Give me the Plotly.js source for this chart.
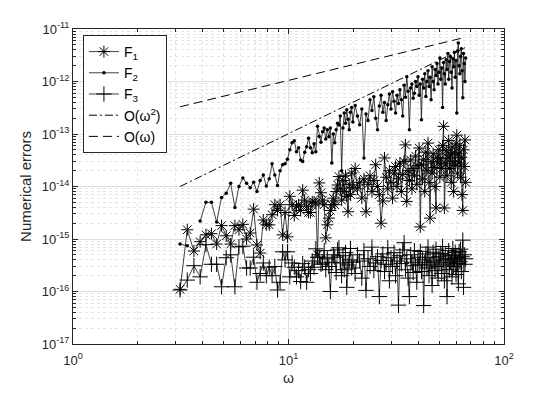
<!DOCTYPE html>
<html>
<head>
<meta charset="utf-8">
<script src="https://cdn.plot.ly/plotly-3.0.1.min.js"></script>
<style>
  html, body { margin: 0; padding: 0; background: #fff; }
  #myPlot { width: 558px; height: 393px; }
</style>
</head>
<body>
<div id="myPlot"></div>
<script>
// frequencies (omega)
const omega = [
  3.14, 3.39, 3.64, 3.89, 4.14, 4.39, 4.64, 4.89, 5.14, 5.39, 5.64, 5.89,
  6.14, 6.39, 6.64, 6.89, 7.14, 7.39, 7.64, 7.89, 8.14, 8.39, 8.64, 8.89,
  9.14, 9.39, 9.64, 9.89, 10.14, 10.39, 10.64, 10.89, 11.14, 11.39, 11.64, 11.89,
  12.14, 12.39, 12.64, 12.89, 13.14, 13.39, 13.64, 13.89, 14.14, 14.39, 14.64, 14.89,
  15.14, 15.39, 15.64, 15.89, 16.14, 16.39, 16.64, 16.89, 17.14, 17.39, 17.64, 17.89,
  18.14, 18.39, 18.64, 18.89, 19.14, 19.39, 19.64, 19.89,
  20.39, 20.89, 21.39, 21.89, 22.39, 22.89, 23.39, 23.89, 24.39, 24.89,
  25.39, 25.89, 26.39, 26.89, 27.39, 27.89, 28.39, 28.89, 29.39, 29.89,
  30.39, 30.89, 31.39, 31.89, 32.39, 32.89, 33.39, 33.89, 34.39, 34.89,
  35.39, 35.89, 36.39, 36.89, 37.39, 37.89, 38.39, 38.89, 39.39, 39.89,
  40.39, 40.89, 41.39, 41.89, 42.39, 42.89, 43.39, 43.89, 44.39, 44.89,
  45.39, 45.89, 46.39, 46.89, 47.39, 47.89, 48.39, 48.89, 49.39, 49.89,
  50.39, 50.89, 51.39, 51.89, 52.39, 52.89, 53.39, 53.89, 54.39, 54.89,
  55.39, 55.89, 56.39, 56.89, 57.39, 57.89, 58.39, 58.89, 59.39, 59.89,
  60.39, 60.89, 61.39, 61.89, 62.39, 62.89, 63.39, 63.89, 64.39, 64.89,
  65.39, 65.89, 66.39
];

// errors of F1 (asterisks)
const errF1 = [
  1.1e-16, 1.5e-15, 5.9e-16, 8.9e-16, 1.2e-15, 1.26e-15, 8e-16, 1.8e-15, 1.15e-15, 8e-16, 1.8e-15, 1.5e-15,
  1.9e-15, 1e-15, 1.3e-15, 3.7e-15, 7.7e-16, 5.4e-16, 2.3e-15, 1.86e-15, 1.86e-15, 2.9e-15, 4.5e-15, 3.5e-15,
  4.5e-15, 1.2e-15, 3.2e-15, 1.1e-15, 6.5e-15, 4.5e-15, 2.8e-15, 4.2e-15, 4.5e-15, 3.5e-15, 8.5e-15, 5.5e-15,
  4.2e-15, 3.2e-15, 3.2e-15, 5.1e-15, 5.1e-15, 4.8e-15, 5e-16, 1.17e-14, 7.6e-15, 5.5e-15, 4.5e-15, 1.05e-15,
  1.86e-15, 2.5e-15, 3.5e-15, 4.5e-15, 6e-15, 4.5e-15, 8e-15, 1.07e-14, 1.55e-14, 9e-15, 5.5e-15, 1.3e-14,
  8e-15, 1.6e-14, 6.5e-15, 3.3e-15, 1.1e-14, 7e-15, 1.8e-14, 9.5e-15,
  2.2e-14, 9e-15, 1.2e-14, 6e-15, 1.4e-14, 3.3e-15, 1.1e-14, 1.6e-14, 8e-15, 1.3e-14,
  2.6e-14, 1e-14, 7e-15, 2e-15, 5.3e-15, 3.5e-14, 1.5e-14, 9e-15, 2e-14, 1.2e-14,
  6e-15, 1.8e-14, 2.4e-14, 1e-14, 1.4e-14, 2.8e-14, 8e-15, 1.7e-14, 3e-14, 6.2e-14,
  5.2e-15, 2e-14, 1.3e-14, 3.2e-14, 9e-15, 2.2e-14, 1.6e-14, 3.8e-14, 1.1e-14, 2.5e-14,
  5.4e-14, 1.7e-15, 2.6e-14, 1.4e-14, 3.3e-14, 8e-15, 4.5e-14, 2e-14, 6.7e-14, 1.2e-14,
  2.5e-15, 3e-14, 1.8e-14, 4.2e-14, 2.3e-14, 1e-14, 3.9e-15, 3.6e-14, 2.8e-14, 5e-14,
  1.5e-14, 3.4e-14, 2.2e-14, 6e-14, 1.4e-13, 3.9e-15, 2.7e-14, 4.8e-14, 1.6e-14, 3.5e-14,
  7.5e-14, 2.2e-14, 4e-14, 1.2e-14, 5.6e-14, 3e-14, 8e-15, 4.4e-14, 2.5e-14, 6.5e-14,
  9.5e-14, 1.8e-14, 4.2e-14, 2.8e-14, 6e-14, 1.5e-14, 3.6e-14, 7e-15, 3.5e-15, 5e-14,
  2.4e-14, 7.7e-14, 1.2e-14
];

// errors of F2 (dots); null = zero error, not drawn on log axes
const errF2 = [
  8e-16, 7.4e-16, null, 2.2e-15, 5e-15, 5e-15, 2.1e-15, 6.2e-15, 7.4e-15, 1.15e-14, 4e-15, 1e-14,
  1.45e-14, 1.15e-14, 9.5e-15, 1.2e-14, 8e-15, 1.3e-14, 1.66e-14, 1.02e-14, 1.4e-14, 2.7e-14, 1.66e-14, 1.05e-14,
  2e-14, 2.6e-14, 2.7e-14, 3.3e-14, 5e-14, 6.8e-14, 7.4e-14, 4.6e-14, 5.5e-14, 3.2e-14, 3e-14, 4.5e-14,
  5.7e-14, 8.3e-14, 5.5e-14, 4.4e-14, 6.5e-14, 4.6e-14, 1.4e-13, 9e-14, 7e-14, 1.1e-13, 1.3e-13, 8e-14,
  1.2e-13, 8.9e-14, 1.3e-13, 2.8e-14, 1e-13, 6.8e-14, 1.2e-13, 1.6e-13, 1.48e-13, 2.2e-13, 2e-14, 1.3e-13,
  2.5e-13, 1.6e-13, 2.9e-13, 1.9e-13, 1.2e-13, 2.6e-13, 3.2e-13, 1.7e-13,
  3.5e-13, 2.2e-13, 1.5e-13, 3e-13, 3.5e-14, 2.4e-13, 1.8e-13, 4.5e-13, 2.8e-13, 5.1e-13,
  2e-13, 1.2e-13, 3.4e-13, 5.5e-13, 2.6e-13, 4e-13, 1.8e-13, 3.6e-13, 5.8e-13, 3e-13,
  6.4e-13, 4.2e-13, 2.5e-13, 5.5e-13, 3.8e-13, 7e-13, 4.5e-13, 2.2e-13, 8.5e-13, 5e-13,
  1.23e-12, 6.5e-13, 1.2e-13, 7.5e-13, 9e-13, 4.8e-13, 6e-13, 1e-12, 8e-13, 1.23e-12,
  5.5e-13, 9e-13, 1.86e-13, 1.1e-12, 7.5e-13, 1.4e-12, 5.2e-13, 1e-12, 1.6e-12, 8e-13,
  1.2e-12, 4.5e-13, 1.9e-12, 1e-12, 7e-13, 1.7e-12, 1.3e-12, 2.2e-12, 9e-13, 1.5e-12,
  2.8e-12, 1.1e-12, 1.8e-12, 3.2e-13, 2.3e-12, 1.4e-12, 9e-13, 2.6e-12, 1.7e-12, 3.4e-12,
  1.1e-12, 2.4e-12, 3e-12, 1.5e-12, 7.5e-13, 2.7e-12, 1.9e-12, 3.6e-12, 1.2e-12, 2.5e-12,
  2.5e-13, 3.8e-12, 5.4e-12, 2e-12, 1.4e-12, 3e-12, 4.2e-12, 1.6e-12, 4.9e-13, 3.4e-12,
  2.2e-12, 1e-12, 2.8e-12
];

// errors of F3 (plus signs)
const errF3 = [
  1.07e-16, 1.65e-16, 3.1e-16, 1.9e-16, 7.8e-16, 3.3e-16, 3.3e-16, 1.23e-16, 4.4e-16, 5e-16, 1.23e-16, 7.1e-16,
  7.3e-16, 2.8e-16, 2.8e-16, 4.5e-16, 1.5e-16, 2.2e-16, 3.5e-16, 2e-16, 2.9e-16, 2e-16, 3e-16, 1.07e-16,
  1.5e-16, 5.7e-16, 4e-16, 5.7e-16, 1.9e-16, 3.5e-16, 2.9e-16, 1.9e-16, 2.5e-16, 1.55e-16, 3.4e-16, 2.9e-16,
  1.5e-16, 2.6e-16, 2.2e-16, 3.8e-16, 2.9e-16, 6.5e-16, 4.5e-16, 4.5e-16, 3.3e-16, 3.5e-16, 6e-16, 2.6e-16,
  4.2e-16, 3e-16, 1e-16, 3.6e-16, 5e-16, 4.5e-16, 2.3e-16, 6.2e-16, 6.8e-16, 3.5e-16, 2e-16, 4.8e-16,
  2.6e-16, 5.5e-16, 1.2e-16, 3.2e-16, 4e-16, 6.6e-16, 2.8e-16, 3.6e-16,
  2.2e-16, 5e-16, 3.8e-16, 1.8e-16, 6e-16, 1.05e-16, 4.2e-16, 3e-16, 7e-16, 2.5e-16,
  3.5e-16, 4.6e-16, 8e-17, 3.9e-16, 5.2e-16, 2.4e-16, 3.3e-16, 6.8e-16, 1.6e-16, 4.4e-16,
  3e-16, 5.5e-16, 2e-16, 3.8e-16, 5.5e-17, 4.8e-16, 3.4e-16, 6.2e-16, 8.5e-16, 2.6e-16,
  4.2e-16, 1.8e-16, 8e-17, 5e-16, 3.6e-16, 2.3e-16, 6e-16, 3.1e-16, 1.5e-16, 4.5e-16,
  3.3e-16, 5.8e-16, 2.4e-16, 4e-16, 5.4e-17, 3.6e-16, 5.2e-16, 2.8e-16, 7e-16, 2e-16,
  4.4e-16, 3.2e-16, 1.3e-16, 5.6e-16, 3.8e-16, 2.5e-16, 6.4e-16, 3e-16, 1.8e-16, 4.6e-16,
  3.5e-16, 5.3e-16, 2.2e-16, 7.2e-16, 4e-16, 1.6e-16, 5e-16, 3.2e-16, 8e-17, 4.2e-16,
  6e-16, 2.6e-16, 3.6e-16, 4.8e-16, 1.9e-16, 6.6e-16, 3e-16, 4e-16, 5.6e-16, 2.1e-16,
  4.4e-16, 3.4e-16, 1.4e-16, 5.8e-16, 3.7e-16, 6.4e-16, 2.4e-16, 4.6e-16, 9.5e-16, 1.2e-16,
  5e-16, 3.3e-16, 4.2e-16
];

// reference slopes, drawn between their two end points
const refX = [3.14, 66.39];
const refOmega2 = [1e-14, 4.47e-12];
const refOmega1 = [3.3e-13, 6.97e-12];

// tick labels
const xTickVals = [1, 10, 100];
const xTickText = ['10<sup>0</sup>', '10<sup>1</sup>', '10<sup>2</sup>'];
const yTickVals = [1e-17, 1e-16, 1e-15, 1e-14, 1e-13, 1e-12, 1e-11];
const yTickText = ['10<sup>-17</sup>', '10<sup>-16</sup>', '10<sup>-15</sup>', '10<sup>-14</sup>',
                   '10<sup>-13</sup>', '10<sup>-12</sup>', '10<sup>-11</sup>'];

const ink = '#262626';
const fontFam = 'Liberation Sans, Arial, sans-serif';

const traces = [
    {
        x: omega, y: errF1, name: 'F<sub>1</sub>',
        type: 'scatter', mode: 'lines+markers',
        line: { color: '#111', width: 0.8 },
        marker: { symbol: 'asterisk-open', size: 10, color: '#000', line: { color: '#000', width: 1 } }
    },
    {
        x: omega, y: errF2, name: 'F<sub>2</sub>',
        type: 'scatter', mode: 'lines+markers', connectgaps: false,
        line: { color: '#111', width: 0.8 },
        marker: { symbol: 'circle', size: 3.5, color: '#000' }
    },
    {
        x: omega, y: errF3, name: 'F<sub>3</sub>',
        type: 'scatter', mode: 'lines+markers',
        line: { color: '#111', width: 0.8 },
        marker: { symbol: 'cross-thin-open', size: 11, color: '#000', line: { color: '#000', width: 1 } }
    },
    {
        x: refX, y: refOmega2, name: 'O(\u03c9<sup>2</sup>)',
        type: 'scatter', mode: 'lines',
        line: { color: '#000', width: 1, dash: '8px,3px,2px,3px' }
    },
    {
        x: refX, y: refOmega1, name: 'O(\u03c9)',
        type: 'scatter', mode: 'lines',
        line: { color: '#000', width: 1, dash: '9px,5px' }
    }
];

const axisCommon = {
    type: 'log',
    showline: true, linecolor: ink, linewidth: 1, mirror: 'allticks',
    ticks: 'inside', ticklen: 5, tickcolor: ink, tickwidth: 1,
    showgrid: true, gridcolor: '#dedede', gridwidth: 1,
    zeroline: false,
    tickmode: 'array',
    tickfont: { family: fontFam, size: 13, color: ink },
    minor: { dtick: 'D1', ticks: 'inside', ticklen: 3, tickcolor: ink, showgrid: true, gridcolor: '#e4e4e4', griddash: 'dot' }
};

const layout = {
    width: 558, height: 393,
    margin: { l: 73, r: 54, t: 29, b: 49 },
    paper_bgcolor: '#fff', plot_bgcolor: '#fff',
    font: { family: fontFam, color: ink },
    showlegend: true,
    legend: {
        x: 0.023, y: 0.981, xanchor: 'left', yanchor: 'top',
        bgcolor: '#fff', bordercolor: ink, borderwidth: 1,
        font: { family: fontFam, size: 14, color: '#000' },
        tracegroupgap: 0
    },
    xaxis: Object.assign({}, axisCommon, {
        range: [0, 2], tickvals: xTickVals, ticktext: xTickText,
        ticklabelstandoff: 4,
        title: { text: '\u03c9', font: { family: fontFam, size: 14, color: ink }, standoff: 6 }
    }),
    yaxis: Object.assign({}, axisCommon, {
        range: [-17, -11], tickvals: yTickVals, ticktext: yTickText,
        title: { text: 'Numerical errors', font: { family: fontFam, size: 15, color: ink }, standoff: 6 }
    })
};

Plotly.newPlot('myPlot', traces, layout, { displayModeBar: false, staticPlot: true });
</script>
</body>
</html>
